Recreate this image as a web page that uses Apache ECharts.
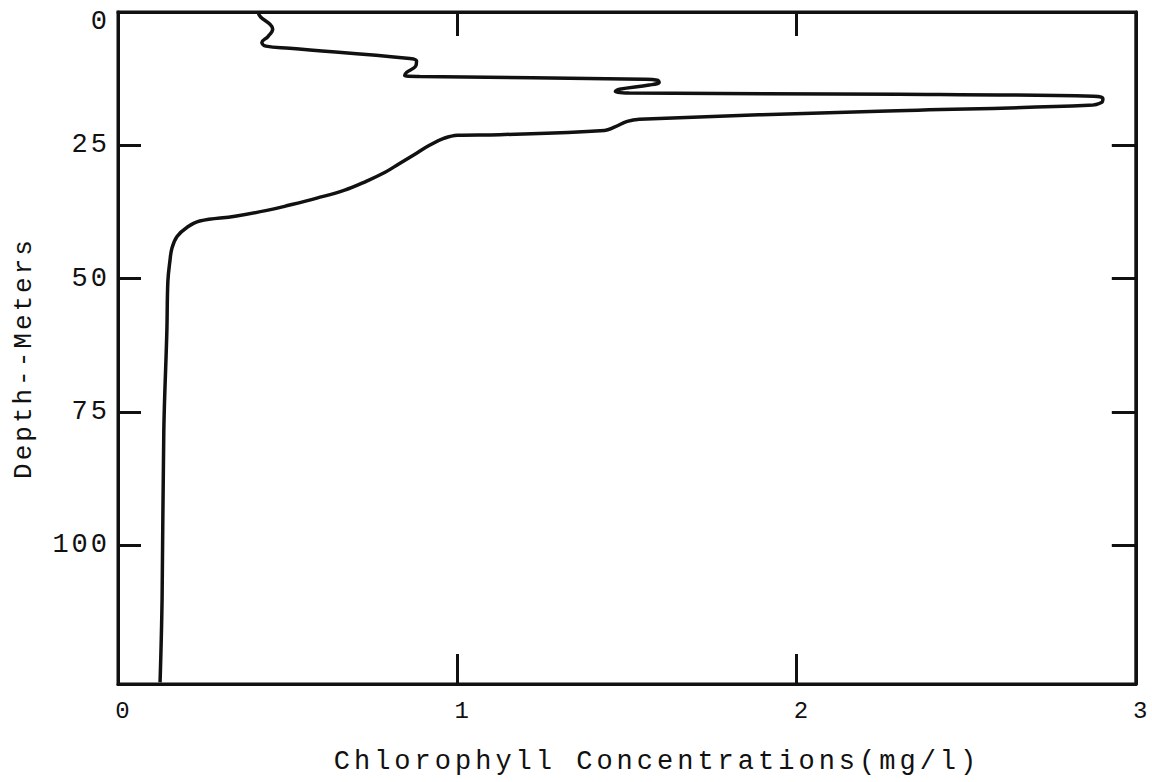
<!DOCTYPE html>
<html>
<head>
<meta charset="utf-8">
<script src="https://cdn.jsdelivr.net/npm/echarts@6/dist/echarts.min.js"></script>
<style>
  html, body { margin: 0; padding: 0; background: #fff; }
  #chart { width: 1152px; height: 782px; }
  /* typewriter-style spacing for every text element */
  #chart text { letter-spacing: 3px; }
</style>
</head>
<body>
<div id="chart"></div>
<script>
// Chlorophyll profile: concentration (mg/l) at each depth (m), top to bottom
const chlorophyll = [
  0.412, 0.421, 0.448, 0.456, 0.442, 0.424, 0.436, 0.506,
  0.860, 0.880, 0.877, 0.851, 0.845, 0.889,
  1.551, 1.590, 1.595, 1.566, 1.478, 1.466, 1.507,
  2.302, 2.876, 2.903, 2.900, 2.861, 2.243,
  1.537, 1.501, 1.463, 1.434, 1.125, 1.001,
  0.960, 0.918, 0.874, 0.830, 0.786, 0.733, 0.668, 0.586, 0.506, 0.439, 0.345, 0.241,
  0.203, 0.174, 0.159, 0.153, 0.147, 0.144, 0.135, 0.130, 0.124
];
const depth = [
  0.0, 1.0, 2.3, 3.2, 4.6, 5.7, 6.4, 6.8,
  8.7, 9.2, 10.2, 11.3, 11.9, 12.1,
  12.6, 12.8, 13.2, 13.7, 14.5, 14.9, 15.2,
  15.4, 15.8, 16.2, 16.9, 17.5, 18.6,
  20.1, 20.5, 21.6, 22.2, 23.0, 23.1,
  23.7, 25.0, 26.7, 28.4, 30.1, 31.7, 33.4, 34.9, 36.2, 37.2, 38.3, 39.2,
  40.4, 42.1, 44.3, 46.7, 50.5, 59.9, 78.6, 109.9, 125.7
];

const xTickLabels = [0, 1, 2, 3];
const xInnerTicks = [1, 2];
const depthTickLabels = [0, 25, 50, 75, 100];
const depthInnerTicks = [25, 50, 75, 100];

const xTitle = 'Chlorophyll Concentrations(mg/l)';
const yTitle = 'Depth--Meters';

const MONO = '"Liberation Mono", "DejaVu Sans Mono", monospace';
const SANS = '"Liberation Sans", Arial, sans-serif';
const INK = '#111';

const profile = chlorophyll.map((c, i) => [c, depth[i]]);

const chart = echarts.init(document.getElementById('chart'), null, { renderer: 'svg' });

const tickStyle = { color: INK, width: 3 };
const frameLine = { show: true, onZero: false, lineStyle: { color: INK, width: 3 } };

chart.setOption({
  animation: false,
  backgroundColor: '#fff',
  grid: {
    left: 118, right: 15, top: 12, bottom: 98,
    show: true, borderColor: INK, borderWidth: 3, backgroundColor: 'transparent'
  },
  xAxis: [
    {
      type: 'value', position: 'bottom', min: 0, max: 3, interval: 1,
      axisLine: frameLine,
      axisTick: { show: true, inside: true, length: 30, customValues: xInnerTicks, lineStyle: tickStyle },
      splitLine: { show: false },
      axisLabel: {
        customValues: xTickLabels, margin: 15,
        fontFamily: MONO, fontSize: 24, color: INK,
        padding: [0, 0, 0, 12]
      }
    },
    {
      type: 'value', position: 'top', min: 0, max: 3, interval: 1,
      axisLine: frameLine,
      axisTick: { show: true, inside: true, length: 24, customValues: xInnerTicks, lineStyle: tickStyle },
      splitLine: { show: false },
      axisLabel: { show: false }
    }
  ],
  yAxis: [
    {
      type: 'value', position: 'left', inverse: true, min: 0, max: 126, interval: 25,
      axisLine: frameLine,
      axisTick: { show: true, inside: true, length: 23, customValues: depthInnerTicks, lineStyle: tickStyle },
      splitLine: { show: false },
      axisLabel: {
        customValues: depthTickLabels, margin: 8,
        fontFamily: MONO, fontSize: 27, color: INK,
        formatter: v => (v === 0 ? '{z|0}' : '{d|' + v + '}'),
        rich: {
          d: { fontFamily: MONO, fontSize: 27, color: INK },
          z: { fontFamily: MONO, fontSize: 27, color: INK, padding: [20, 0, 0, 0] }
        }
      }
    },
    {
      type: 'value', position: 'right', inverse: true, min: 0, max: 126, interval: 25,
      axisLine: frameLine,
      axisTick: { show: true, inside: true, length: 24, customValues: depthInnerTicks, lineStyle: tickStyle },
      splitLine: { show: false },
      axisLabel: { show: false }
    }
  ],
  graphic: [
    {
      type: 'text', x: 657, y: 762,
      style: { text: xTitle, font: '27px ' + MONO, fill: INK, align: 'center', verticalAlign: 'middle' }
    },
    {
      type: 'text', x: 24, y: 358, rotation: Math.PI / 2,
      style: { text: yTitle, font: '26px ' + MONO, fill: INK, align: 'center', verticalAlign: 'middle' }
    }
  ],
  series: [
    {
      type: 'line', xAxisIndex: 0, yAxisIndex: 0,
      data: profile, showSymbol: false, symbol: 'none',
      smooth: 0.4,
      lineStyle: { color: INK, width: 3.5 }
    }
  ]
});

// wider typewriter pitch for the horizontal axis title
document.querySelectorAll('#chart text').forEach(t => {
  if (t.textContent === xTitle) t.style.letterSpacing = '4px';
});
</script>
</body>
</html>
